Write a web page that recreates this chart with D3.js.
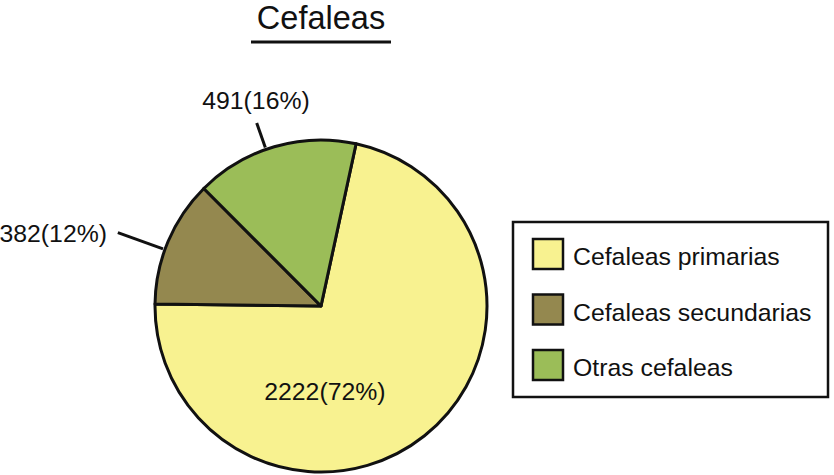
<!DOCTYPE html>
<html>
<head>
<meta charset="utf-8">
<script src="https://cdn.jsdelivr.net/npm/d3@7"></script>
<style>
  html, body { margin: 0; padding: 0; background: #fff; }
  svg { display: block; font-family: "Liberation Sans", Arial, Helvetica, sans-serif; }
</style>
</head>
<body>
<svg id="chart" width="834" height="475"></svg>
<script>
// ---- data ----
const categories = ["Cefaleas primarias", "Cefaleas secundarias", "Otras cefaleas"];
const counts = [2222, 382, 491];
const percents = [72, 12, 16];
const colors = ["#F8F290", "#94884F", "#9BBD58"];
const title = "Cefaleas";

// ---- layout ----
const W = 834, H = 475;
const cx = 321, cy = 306, R = 166;
const startDeg = 12.2;
const fs = 24.8;

const svg = d3.select("#chart");

// title
svg.append("text")
  .attr("x", 321).attr("y", 29)
  .attr("text-anchor", "middle")
  .attr("font-size", 32.5)
  .attr("fill", "#111")
  .text(title);
svg.append("line")
  .attr("x1", 251).attr("x2", 391)
  .attr("y1", 42).attr("y2", 42)
  .attr("stroke", "#111").attr("stroke-width", 3);

// pie
const data = categories.map((c, i) => ({ cat: c, value: counts[i], pct: percents[i], color: colors[i] }));
const start = startDeg * Math.PI / 180;
const pie = d3.pie().sort(null).value(d => d.value)
  .startAngle(start).endAngle(start + 2 * Math.PI);
const arcs = pie(data);
const arc = d3.arc().innerRadius(0).outerRadius(R);

const g = svg.append("g").attr("transform", `translate(${cx},${cy})`);
g.selectAll("path").data(arcs).join("path")
  .attr("d", arc)
  .attr("fill", d => d.data.color)
  .attr("stroke", "#111")
  .attr("stroke-width", 3)
  .attr("stroke-linejoin", "round");

// labels
const labelText = d => `${d.data.value}(${d.data.pct}%)`;
const labelCfg = [
  { inside: true, angleOffDeg: 36, r: 0.52, dy: 8 },
  { inside: false, angleOffDeg: -3, r2: 216, tx: -214, ty: -64, anchor: "end" },
  { inside: false, angleOffDeg: -3, r2: 194, tx: -65, ty: -197, anchor: "middle" }
];
arcs.forEach((d, i) => {
  const cfg = labelCfg[i];
  const mid = (d.startAngle + d.endAngle) / 2 + cfg.angleOffDeg * Math.PI / 180;
  if (cfg.inside) {
    const x = Math.sin(mid) * R * cfg.r, y = -Math.cos(mid) * R * cfg.r;
    g.append("text").attr("x", x).attr("y", y + cfg.dy)
      .attr("text-anchor", "middle").attr("font-size", fs).attr("fill", "#111")
      .text(labelText(d));
  } else {
    const r1 = R + 2;
    g.append("line")
      .attr("x1", Math.sin(mid) * r1).attr("y1", -Math.cos(mid) * r1)
      .attr("x2", Math.sin(mid) * cfg.r2).attr("y2", -Math.cos(mid) * cfg.r2)
      .attr("stroke", "#111").attr("stroke-width", 3);
    g.append("text").attr("x", cfg.tx).attr("y", cfg.ty)
      .attr("text-anchor", cfg.anchor).attr("font-size", fs).attr("fill", "#111")
      .text(labelText(d));
  }
});

// legend
const lg = svg.append("g");
lg.append("rect")
  .attr("x", 513).attr("y", 222).attr("width", 315).attr("height", 175)
  .attr("fill", "#fff").attr("stroke", "#111").attr("stroke-width", 2.5);
const rowY = d3.scalePoint().domain(categories).range([239, 350]);
const items = lg.selectAll("g.item").data(data).join("g").attr("class", "item")
  .attr("transform", d => `translate(533,${rowY(d.cat)})`);
items.append("rect")
  .attr("width", 30).attr("height", 30)
  .attr("fill", d => d.color).attr("stroke", "#111").attr("stroke-width", 2.5);
items.append("text")
  .attr("x", 40).attr("y", 26)
  .attr("font-size", fs).attr("fill", "#111")
  .text(d => d.cat);
</script>
</body>
</html>
